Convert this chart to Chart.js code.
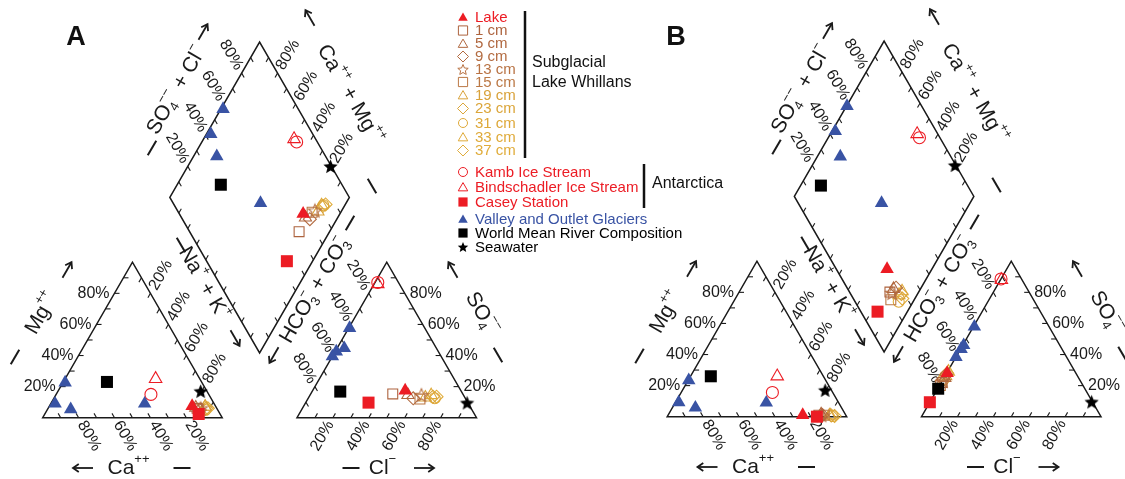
<!DOCTYPE html>
<html><head><meta charset="utf-8">
<script src="https://cdn.jsdelivr.net/npm/chart.js@4.4.1/dist/chart.umd.min.js"></script>
<style>html,body{margin:0;padding:0;background:#fff;}#wrap{width:1125px;height:479px;}</style>
</head><body><div id="wrap"><canvas id="c" width="1125" height="479"></canvas></div>
<script>
// ---------------- DATA (percent of meq) ----------------
const sampleNames = ['Lake','1 cm','5 cm','9 cm','13 cm','15 cm','19 cm','23 cm','31 cm','33 cm','37 cm',
  'Kamb Ice Stream','Bindschadler Ice Stream','Casey Station',
  'Valley and Outlet Glaciers','Valley and Outlet Glaciers','Valley and Outlet Glaciers','Valley and Outlet Glaciers',
  'World Mean River Composition','Seawater'];
// Panel A
const mgA  = [7.5, 6, 6.5, 5, 6, 5.5, 7, 6, 5, 7, 6, 15, 25, 2.4, 22.6, 9, 5.4, 9, 23, 17];
const nakA = [79.5, 83, 82, 85, 85, 84, 87, 88, 88, 87, 89, 52.8, 50.4, 85.7, 1.2, 2.4, 12.9, 52.3, 24.3, 79.5];
const so4A = [17.5, 15.3, 14.6, 12.5, 14.6, 12, 13, 13.5, 12.5, 14.5, 13.5, 87, 86, 9.7, 57.6, 42.6, 39.4, 44.7, 16.8, 9.5];
const clA  = [51.5, 45.7, 54.5, 58.5, 62, 62.5, 65, 69, 70.5, 67.5, 71, 1.5, 2, 35, 0.5, 0.6, 0, 4, 15.7, 90];
// Panel B
const mgB  = [1, 1, 1.5, 1, 1, 1, 0.8, 0.8, 0.5, 0.8, 0.5, 15.6, 26, 0, 23.4, 9.3, 5.8, 9, 26, 17];
const nakB = [75, 84, 85, 86, 85.5, 87, 90, 91, 92, 90.5, 93, 50.8, 48.3, 83.4, 0.3, 1.8, 12.8, 50.7, 11.3, 79.5];
const so4B = [28, 22, 25, 27, 23, 20, 26, 28, 24, 29, 27, 88.6, 88, 9.3, 57.9, 43.5, 38.4, 46, 18, 9.5];
const clB  = [0.3, 0.5, 0.5, 0.3, 0.5, 0.5, 0.5, 0.3, 0.3, 0.5, 0.3, 0, 0.5, 0, 0.5, 0.3, 0, 0.5, 0.3, 90];
const tickPercents = [20, 40, 60, 80];
const minorTicks = [10, 20, 30, 40, 50, 60, 70, 80, 90];

// ---------------- STYLES ----------------
const RED = '#ec1c24', BLUE = '#3953a4', BLACK = '#000000';
const seriesNames = ['Seawater','World Mean River Composition','Valley and Outlet Glaciers','Lake','Casey Station',
  'Kamb Ice Stream','Bindschadler Ice Stream','1 cm','5 cm','9 cm','13 cm','15 cm','19 cm','23 cm','31 cm','33 cm','37 cm'];
const seriesShape = ['star','rect','triangle','triangle','rect','circle','triangle','rect','triangle','rectRot','star','rect','triangle','rectRot','circle','triangle','rectRot'];
const seriesFilled = [true,true,true,true,true,false,false,false,false,false,false,false,false,false,false,false,false];
const seriesColor = [BLACK,BLACK,BLUE,RED,RED,RED,RED,'#ad633e','#b0673f','#b36b40','#b87243','#bb7845','#d9a23a','#dba539','#dea838','#dfaa39','#e0ac3a'];
const seriesRadius = [7.5,8.5,7.8,7.8,8.5,6,7.2,7,7,6.5,7,7,7,6.5,5.5,7,6.5];

const legendNames = ['Lake','1 cm','5 cm','9 cm','13 cm','15 cm','19 cm','23 cm','31 cm','33 cm','37 cm',
  'Kamb Ice Stream','Bindschadler Ice Stream','Casey Station','Valley and Outlet Glaciers','World Mean River Composition','Seawater'];
const legendY = [17, 30.5, 43.5, 56.5, 69.5, 82, 95, 108.5, 123, 137, 150.5, 172, 187, 202, 219, 233, 247];

// ---------------- LAYOUT ----------------
const S = 179.5, H = S * Math.sqrt(3) / 2;
const panels = [{dx: 0, dy: 0, letter: 'A', lx: 76}, {dx: 624.5, dy: -1, letter: 'B', lx: 676}];
const catBL = {x: 42.7, y: 417.7};
const anBL = {x: 297, y: 417.7};
const gapW = anBL.x - (catBL.x + S);
const dmBot = {x: (catBL.x + S + anBL.x) / 2, y: catBL.y - gapW / 2 * Math.sqrt(3)};
const dmL = {x: dmBot.x - S / 2, y: dmBot.y - H};

function catXY(p, mg, nak) { return {x: catBL.x + p.dx + (nak + mg / 2) / 100 * S, y: catBL.y + p.dy - mg / 100 * H}; }
function anXY(p, so4, cl) { return {x: anBL.x + p.dx + (cl + so4 / 2) / 100 * S, y: anBL.y + p.dy - so4 / 100 * H}; }
function dmXY(p, a, c) { return {x: dmL.x + p.dx + (a + c) / 100 * S / 2, y: dmL.y + p.dy + (c - a) / 100 * H}; }

function makeStar(color, filled, r) {
  const c = document.createElement('canvas');
  const s = Math.ceil(r * 2 + 4); c.width = s; c.height = s;
  const g = c.getContext('2d');
  g.beginPath();
  for (let k = 0; k < 10; k++) {
    const rr = k % 2 ? r * 0.45 : r;
    const ang = -Math.PI / 2 + k * Math.PI / 5;
    const x = s / 2 + rr * Math.cos(ang), y = s / 2 + 0.6 + rr * Math.sin(ang);
    if (k) g.lineTo(x, y); else g.moveTo(x, y);
  }
  g.closePath();
  if (filled) { g.fillStyle = color; g.fill(); } else { g.strokeStyle = color; g.lineWidth = 1.1; g.stroke(); }
  return c;
}

const datasets = seriesNames.map((name, si) => {
  const pts = [];
  sampleNames.forEach((n, i) => {
    if (n !== name) return;
    [[panels[0], mgA, nakA, so4A, clA], [panels[1], mgB, nakB, so4B, clB]].forEach(([p, mg, nak, so4, cl]) => {
      pts.push(catXY(p, mg[i], nak[i]));
      pts.push(anXY(p, so4[i], cl[i]));
      pts.push(dmXY(p, so4[i] + cl[i], nak[i]));
    });
  });
  const shape = seriesShape[si];
  const col = seriesColor[si];
  return {
    label: name, data: pts, showLine: false, clip: false,
    pointStyle: shape === 'star' ? makeStar(col, seriesFilled[si], seriesRadius[si]) : shape,
    pointRadius: seriesRadius[si], pointHoverRadius: seriesRadius[si],
    backgroundColor: seriesFilled[si] ? col : 'rgba(0,0,0,0)',
    borderColor: col, pointBorderWidth: seriesFilled[si] ? 0 : 1.1,
  };
});

// ---------------- DRAW HELPERS ----------------
const FONT = '"Liberation Sans", Arial, Helvetica, sans-serif';
function richWidth(ctx, segs, size) {
  let w = 0;
  segs.forEach(s => {
    if (typeof s === 'string') { ctx.font = size + 'px ' + FONT; w += ctx.measureText(s).width; }
    else { ctx.font = (size * 0.62) + 'px ' + FONT; w += Math.max(ctx.measureText(s.sub || '').width, ctx.measureText(s.sup || '').width) + 1; }
  });
  return w;
}
function drawRich(ctx, segs, cx, cy, angle, size, color) {
  ctx.save();
  ctx.translate(cx, cy); ctx.rotate(angle);
  ctx.fillStyle = color; ctx.textBaseline = 'middle'; ctx.textAlign = 'left';
  const w = richWidth(ctx, segs, size);
  let x = -w / 2;
  segs.forEach(s => {
    if (typeof s === 'string') {
      ctx.font = size + 'px ' + FONT; ctx.fillText(s, x, 0); x += ctx.measureText(s).width;
    } else {
      ctx.font = (size * 0.62) + 'px ' + FONT;
      let ww = 0;
      if (s.sub) { ctx.fillText(s.sub, x, size * 0.32); ww = Math.max(ww, ctx.measureText(s.sub).width); }
      if (s.sup) { ctx.fillText(s.sup, x, -size * 0.4); ww = Math.max(ww, ctx.measureText(s.sup).width); }
      x += ww + 1;
    }
  });
  ctx.restore();
}
function shapePath(ctx, shape, x, y, r) {
  ctx.beginPath();
  if (shape === 'triangle') {
    for (let k = 0; k < 3; k++) { const a = -Math.PI / 2 + k * 2 * Math.PI / 3; const px = x + r * Math.cos(a), py = y + r * Math.sin(a) + r * 0.2; k ? ctx.lineTo(px, py) : ctx.moveTo(px, py); }
  } else if (shape === 'rect') {
    const h = r * Math.SQRT1_2; ctx.rect(x - h, y - h, 2 * h, 2 * h);
  } else if (shape === 'rectRot') {
    ctx.moveTo(x, y - r); ctx.lineTo(x + r, y); ctx.lineTo(x, y + r); ctx.lineTo(x - r, y);
  } else if (shape === 'circle') {
    ctx.arc(x, y, r, 0, Math.PI * 2);
  } else if (shape === 'star') {
    for (let k = 0; k < 10; k++) { const rr = k % 2 ? r * 0.45 : r; const a = -Math.PI / 2 + k * Math.PI / 5; const px = x + rr * Math.cos(a), py = y + 0.5 + rr * Math.sin(a); k ? ctx.lineTo(px, py) : ctx.moveTo(px, py); }
  }
  ctx.closePath();
}

const piperPlugin = {
  id: 'piper',
  beforeDatasetsDraw(chart) {
    const ctx = chart.ctx;
    const X = v => chart.scales.x.getPixelForValue(v);
    const Y = v => chart.scales.y.getPixelForValue(v);
    const P = o => [X(o.x), Y(o.y)];
    ctx.save();
    ctx.strokeStyle = '#1a1a1a'; ctx.fillStyle = '#1a1a1a';
    ctx.lineJoin = 'miter';
    const poly = pts => { ctx.beginPath(); pts.forEach((o, i) => { const [a, b] = P(o); i ? ctx.lineTo(a, b) : ctx.moveTo(a, b); }); ctx.closePath(); ctx.lineWidth = 1.5; ctx.stroke(); };
    const tick = (o, d, len) => { ctx.beginPath(); ctx.moveTo(X(o.x), Y(o.y)); ctx.lineTo(X(o.x + d[0] * len), Y(o.y + d[1] * len)); ctx.lineWidth = 1.1; ctx.stroke(); };
    const lab = (o, u, txt) => {
      ctx.font = '16px ' + FONT;
      const w = ctx.measureText(txt).width;
      const dist = 5 + w / 2;
      let ang = Math.atan2(u[1], u[0]);
      if (ang > Math.PI / 2 + 0.01) ang -= Math.PI;
      if (ang < -Math.PI / 2 - 0.01) ang += Math.PI;
      drawRich(ctx, [txt], X(o.x + u[0] * dist), Y(o.y + u[1] * dist), ang, 16, '#1a1a1a');
    };
    const seg = (cx, cy, ang, len, w) => {
      const dx = Math.cos(ang) * len / 2, dy = Math.sin(ang) * len / 2;
      ctx.beginPath(); ctx.moveTo(X(cx - dx), Y(cy - dy)); ctx.lineTo(X(cx + dx), Y(cy + dy)); ctx.lineWidth = w; ctx.stroke();
    };
    const arrow = (cx, cy, ang, len) => {
      seg(cx, cy, ang, len, 1.8);
      const ex = cx + Math.cos(ang) * len / 2, ey = cy + Math.sin(ang) * len / 2;
      ctx.beginPath();
      ctx.moveTo(X(ex - Math.cos(ang - 0.6) * 7), Y(ey - Math.sin(ang - 0.6) * 7));
      ctx.lineTo(X(ex), Y(ey));
      ctx.lineTo(X(ex - Math.cos(ang + 0.6) * 7), Y(ey - Math.sin(ang + 0.6) * 7));
      ctx.lineWidth = 1.8; ctx.stroke();
    };
    const d60 = Math.PI / 3;
    const s3 = Math.sqrt(3) / 2;

    panels.forEach(p => {
      // frames
      poly([catXY(p, 0, 0), catXY(p, 0, 100), catXY(p, 100, 0)]);
      poly([anXY(p, 0, 0), anXY(p, 0, 100), anXY(p, 100, 0)]);
      poly([dmXY(p, 0, 0), dmXY(p, 100, 0), dmXY(p, 100, 100), dmXY(p, 0, 100)]);
      // ticks
      minorTicks.forEach(k => {
        tick(catXY(p, 0, 100 - k), [-0.5, -s3], 5);
        tick(catXY(p, k, 0), [1, 0], 5);
        tick(catXY(p, 100 - k, k), [-0.5, s3], 5);
        tick(anXY(p, 0, k), [0.5, -s3], 5);
        tick(anXY(p, k, 100 - k), [-1, 0], 5);
        tick(anXY(p, 100 - k, 0), [0.5, s3], 5);
        tick(dmXY(p, k, 0), [0.5, s3], 5);
        tick(dmXY(p, 100, k), [-0.5, s3], 5);
        tick(dmXY(p, 0, k), [0.5, -s3], 5);
        tick(dmXY(p, k, 100), [-0.5, -s3], 5);
      });
      // tick labels
      tickPercents.forEach(k => {
        const t = k + '%';
        lab(catXY(p, 0, 100 - k), [0.5, s3], t);
        lab(catXY(p, k, 0), [-1, 0], t);
        lab(catXY(p, 100 - k, k), [0.5, -s3], t);
        lab(anXY(p, 0, k), [-0.5, s3], t);
        lab(anXY(p, k, 100 - k), [1, 0], t);
        lab(anXY(p, 100 - k, 0), [-0.5, -s3], t);
        lab(dmXY(p, k, 0), [-0.5, -s3], t);
        lab(dmXY(p, 100, 100 - k), [0.5, -s3], t);
      });
      const ox = p.dx, oy = p.dy;
      const T = 21;
      // Ca++
      drawRich(ctx, ['Ca', {sup: '++'}], X(129 + ox), Y(468 + oy), 0, T, '#1a1a1a');
      arrow(83 + ox, 468 + oy, Math.PI, 20); seg(182 + ox, 468 + oy, 0, 17, 2);
      // Mg++
      drawRich(ctx, ['Mg', {sup: '++'}], X(42 + ox), Y(313 + oy), -d60, T, '#1a1a1a');
      arrow(67 + ox, 270 + oy, -d60, 18); seg(15 + ox, 357 + oy, -d60, 17, 2);
      // Na+ + K+
      drawRich(ctx, ['Na', {sup: '+'}, ' + K', {sup: '+'}], X(204 + ox), Y(284 + oy), d60, T, '#1a1a1a');
      arrow(235 + ox, 338 + oy, d60, 18); seg(181 + ox, 245 + oy, d60, 17, 2);
      // Cl-
      drawRich(ctx, ['Cl', {sup: '\u2212'}], X(383 + ox), Y(468 + oy), 0, T, '#1a1a1a');
      seg(351 + ox, 468 + oy, 0, 17, 2); arrow(424 + ox, 468 + oy, 0, 20);
      // SO4--
      drawRich(ctx, ['SO', {sub: '4', sup: '\u2212\u2212'}], X(482 + ox), Y(314 + oy), d60, T, '#1a1a1a');
      arrow(453 + ox, 270 + oy, -2 * d60, 18); seg(498 + ox, 355 + oy, d60, 17, 2);
      // SO4 + Cl
      drawRich(ctx, ['SO', {sub: '4', sup: '\u2212\u2212'}, ' + Cl', {sup: '\u2212'}], X(177 + ox), Y(90 + oy), -d60, T, '#1a1a1a');
      arrow(203 + ox, 32 + oy, -d60, 18); seg(152 + ox, 148 + oy, -d60, 17, 2);
      // Ca + Mg
      drawRich(ctx, ['Ca', {sup: '++'}, ' + Mg', {sup: '++'}], X(350 + ox), Y(95 + oy), d60, T, '#1a1a1a');
      arrow(310 + ox, 18 + oy, -2 * d60, 18); seg(372 + ox, 186 + oy, d60, 17, 2);
      // HCO3 + CO3
      drawRich(ctx, ['HCO', {sub: '3', sup: '\u2212'}, ' + CO', {sub: '3', sup: '\u2212'}], X(315 + ox), Y(290 + oy), -d60, T, '#1a1a1a');
      arrow(274 + ox, 355 + oy, 2 * d60, 18); seg(350 + ox, 223 + oy, -d60, 17, 2);
      // panel letter
      ctx.save(); ctx.font = 'bold 27px ' + FONT; ctx.textAlign = 'center'; ctx.textBaseline = 'middle'; ctx.fillStyle = '#111';
      ctx.fillText(p.letter, X(p.lx), Y(38)); ctx.restore();
    });

    // legend
    legendNames.forEach((name, i) => {
      const si = seriesNames.indexOf(name);
      const col = seriesColor[si];
      const y = Y(legendY[i]);
      shapePath(ctx, seriesShape[si], X(463), y, seriesShape[si] === 'rect' ? 6.5 : (seriesShape[si] === 'circle' ? 4.5 : 5.5));
      if (seriesFilled[si]) { ctx.fillStyle = col; ctx.fill(); } else { ctx.strokeStyle = col; ctx.lineWidth = 1; ctx.stroke(); }
      ctx.font = '15px ' + FONT; ctx.fillStyle = col; ctx.textAlign = 'left'; ctx.textBaseline = 'middle';
      ctx.fillText(name, X(475), y + 0.5);
    });
    ctx.strokeStyle = '#111'; ctx.lineWidth = 2.5;
    ctx.beginPath(); ctx.moveTo(X(525), Y(11)); ctx.lineTo(X(525), Y(158)); ctx.stroke();
    ctx.beginPath(); ctx.moveTo(X(644), Y(164)); ctx.lineTo(X(644), Y(208)); ctx.stroke();
    ctx.fillStyle = '#111'; ctx.font = '16px ' + FONT; ctx.textAlign = 'left'; ctx.textBaseline = 'middle';
    ctx.fillText('Subglacial', X(532), Y(63));
    ctx.fillText('Lake Whillans', X(532), Y(83));
    ctx.fillText('Antarctica', X(652), Y(184));
    ctx.restore();
  }
};

new Chart(document.getElementById('c'), {
  type: 'scatter',
  data: {datasets},
  options: {
    responsive: false, animation: false, events: [],
    layout: {padding: 0, autoPadding: false},
    plugins: {legend: {display: false}, tooltip: {enabled: false}, title: {display: false}},
    scales: {
      x: {type: 'linear', min: 0, max: 1125, display: false},
      y: {type: 'linear', min: 0, max: 479, reverse: true, display: false}
    }
  },
  plugins: [piperPlugin]
});
</script>
</body></html>
